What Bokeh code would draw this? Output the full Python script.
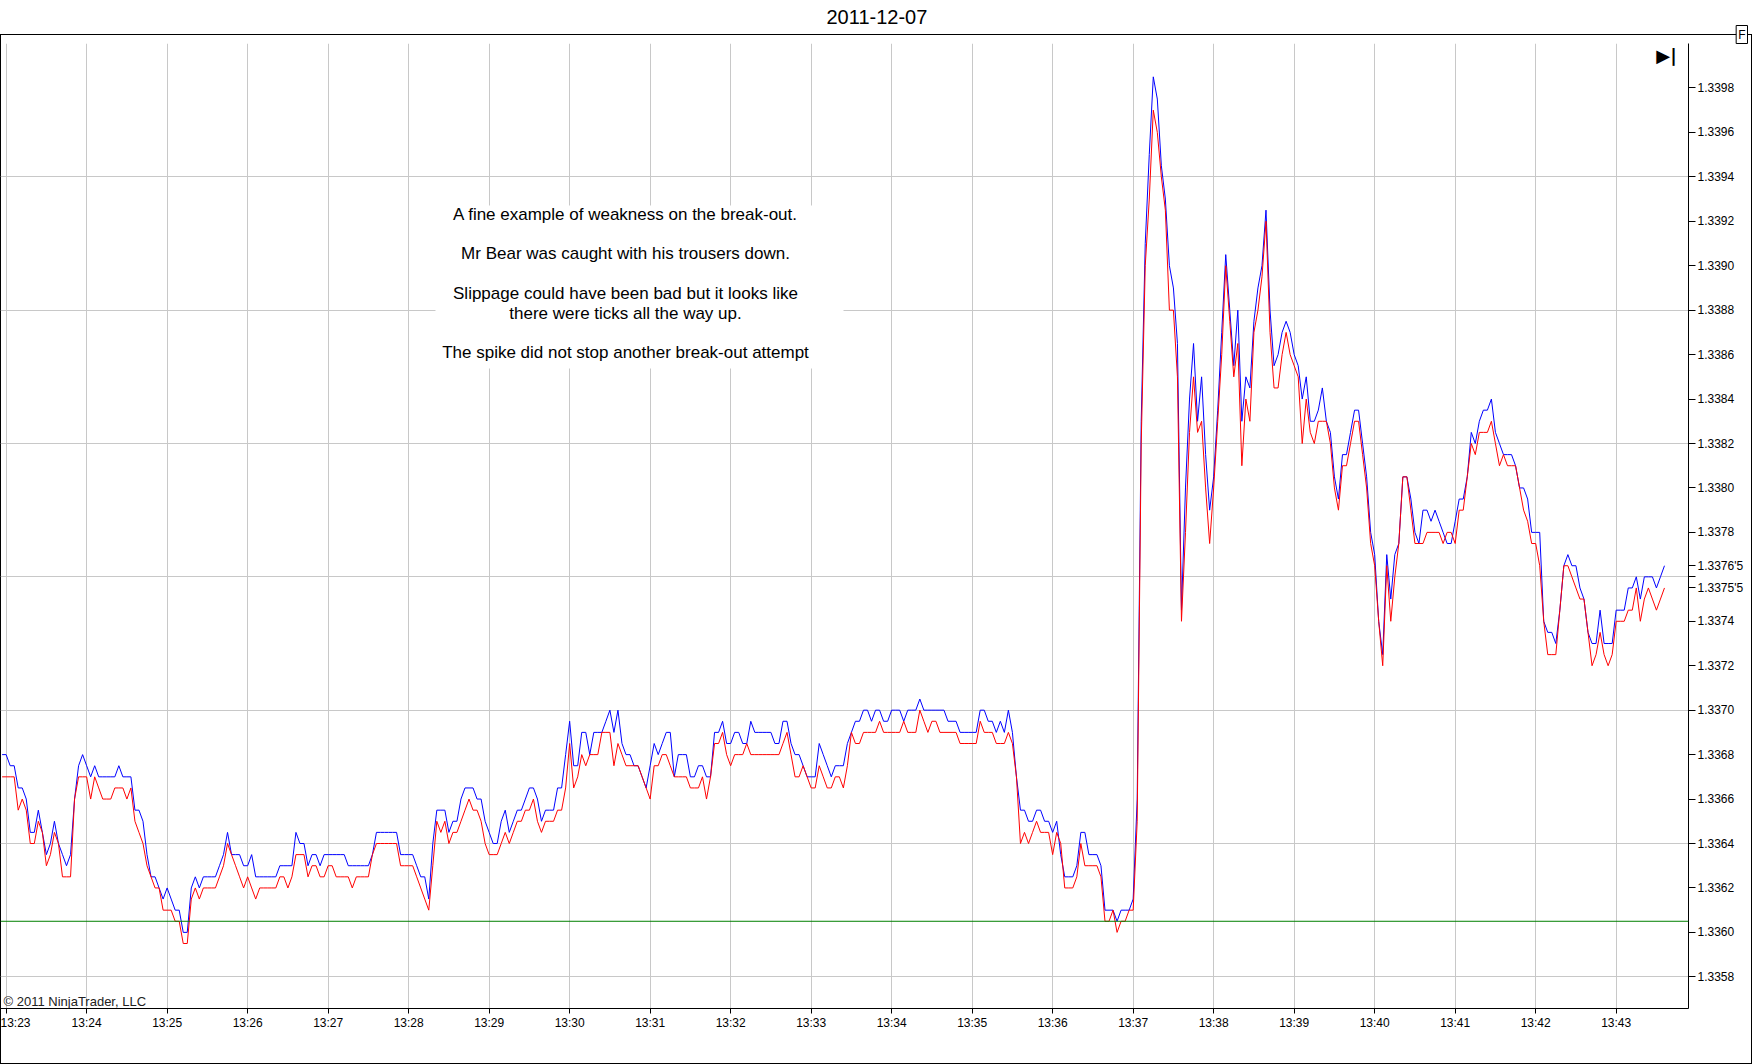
from bokeh.plotting import figure
from bokeh.models import Range1d, FixedTicker, Span, Label, BoxAnnotation, PrintfTickFormatter, Title
from bokeh.embed import file_html
from bokeh.resources import INLINE

# ---------------- data ----------------
chart_title = "2011-12-07"
start_seconds = -3          # first sample, seconds after 13:23:00
sample_step_seconds = 3

ask = [1.3368,
    1.3368, 1.33675, 1.33675, 1.33665, 1.33665, 1.3366, 1.33645, 1.33645, 1.33655, 1.33645, 1.33635, 1.3364, 1.3365, 1.3364, 1.33635, 1.3363, 1.33635, 1.3366, 1.33675, 1.3368,
    1.33675, 1.3367, 1.33675, 1.3367, 1.3367, 1.3367, 1.3367, 1.3367, 1.33675, 1.3367, 1.3367, 1.3367, 1.33655, 1.33655, 1.3365, 1.33635, 1.33625, 1.33625, 1.3362, 1.33615,
    1.3362, 1.33615, 1.3361, 1.3361, 1.336, 1.336, 1.3362, 1.33625, 1.3362, 1.33625, 1.33625, 1.33625, 1.33625, 1.3363, 1.33635, 1.33645, 1.33635, 1.33635, 1.33635, 1.3363,
    1.3363, 1.33635, 1.33625, 1.33625, 1.33625, 1.33625, 1.33625, 1.33625, 1.3363, 1.3363, 1.3363, 1.3363, 1.33645, 1.3364, 1.3364, 1.3363, 1.33635, 1.33635, 1.3363, 1.33635,
    1.33635, 1.33635, 1.33635, 1.33635, 1.33635, 1.3363, 1.3363, 1.3363, 1.3363, 1.3363, 1.3363, 1.33635, 1.33645, 1.33645, 1.33645, 1.33645, 1.33645, 1.33645, 1.33635, 1.33635,
    1.33635, 1.33635, 1.3363, 1.33625, 1.33625, 1.33615, 1.3364, 1.33655, 1.33655, 1.33655, 1.33645, 1.3365, 1.3365, 1.3366, 1.33665, 1.33665, 1.33665, 1.3366, 1.3366, 1.3365,
    1.33645, 1.3364, 1.3364, 1.3365, 1.33655, 1.33645, 1.3365, 1.33655, 1.33655, 1.3366, 1.33665, 1.33665, 1.3366, 1.3365, 1.33655, 1.33655, 1.33655, 1.33665, 1.33665, 1.3368,
    1.33695, 1.33675, 1.33675, 1.3369, 1.3369, 1.3368, 1.3369, 1.3369, 1.3369, 1.33695, 1.337, 1.3369, 1.337, 1.33685, 1.3368, 1.3368, 1.33675, 1.33675, 1.3367, 1.33665,
    1.33675, 1.33685, 1.3368, 1.33685, 1.3369, 1.3369, 1.3367, 1.3368, 1.3368, 1.3368, 1.3367, 1.3367, 1.33675, 1.33675, 1.3367, 1.3367, 1.3369, 1.3369, 1.33695, 1.33685,
    1.33685, 1.3369, 1.3369, 1.33685, 1.33685, 1.33695, 1.3369, 1.3369, 1.3369, 1.3369, 1.3369, 1.33685, 1.33685, 1.33695, 1.33695, 1.33685, 1.3368, 1.3368, 1.33675, 1.3367,
    1.3367, 1.3367, 1.33685, 1.3368, 1.33675, 1.3367, 1.33675, 1.33675, 1.33675, 1.33685, 1.3369, 1.33695, 1.33695, 1.337, 1.337, 1.33695, 1.337, 1.337, 1.33695, 1.33695,
    1.337, 1.337, 1.337, 1.33695, 1.337, 1.337, 1.337, 1.33705, 1.337, 1.337, 1.337, 1.337, 1.337, 1.337, 1.33695, 1.33695, 1.33695, 1.3369, 1.3369, 1.3369,
    1.3369, 1.3369, 1.337, 1.337, 1.33695, 1.33695, 1.3369, 1.33695, 1.3369, 1.337, 1.3369, 1.3367, 1.33655, 1.33655, 1.3365, 1.3365, 1.33655, 1.33655, 1.3365, 1.3365,
    1.33645, 1.3365, 1.33635, 1.33625, 1.33625, 1.33625, 1.3363, 1.33645, 1.33645, 1.33635, 1.33635, 1.33635, 1.3363, 1.3361, 1.3361, 1.3361, 1.33605, 1.3361, 1.3361, 1.3361,
    1.33615, 1.3366, 1.3383, 1.3391, 1.3395, 1.33985, 1.33975, 1.33945, 1.3393, 1.339, 1.3389, 1.33865, 1.33745, 1.338, 1.3384, 1.33865, 1.3383, 1.3385, 1.33815, 1.3379,
    1.33805, 1.33835, 1.3387, 1.33905, 1.3388, 1.33855, 1.3388, 1.3383, 1.3385, 1.33845, 1.33875, 1.3389, 1.339, 1.33925, 1.3388, 1.33855, 1.3386, 1.3387, 1.33875, 1.3387,
    1.3386, 1.33855, 1.3384, 1.3385, 1.3383, 1.3383, 1.33835, 1.33845, 1.3383, 1.33825, 1.33805, 1.33795, 1.33815, 1.33815, 1.33825, 1.33835, 1.33835, 1.3382, 1.33805, 1.3378,
    1.3377, 1.3374, 1.33725, 1.3377, 1.3375, 1.3377, 1.33775, 1.33805, 1.33805, 1.33795, 1.3378, 1.33775, 1.3379, 1.3379, 1.33785, 1.3379, 1.33785, 1.3378, 1.33775, 1.33775,
    1.33785, 1.33795, 1.33795, 1.33805, 1.33825, 1.3382, 1.3383, 1.33835, 1.33835, 1.3384, 1.33825, 1.3382, 1.33815, 1.33815, 1.33815, 1.3381, 1.338, 1.338, 1.33795, 1.3378,
    1.3378, 1.3378, 1.3374, 1.33735, 1.33735, 1.3373, 1.33745, 1.33765, 1.3377, 1.33765, 1.33765, 1.33755, 1.3375, 1.33735, 1.3373, 1.3373, 1.33745, 1.3373, 1.3373, 1.3373,
    1.33745, 1.33745, 1.33745, 1.33755, 1.33755, 1.3376, 1.3375, 1.3376, 1.3376, 1.3376, 1.33755, 1.3376, 1.33765]

bid = [1.3367,
    1.3367, 1.3367, 1.3367, 1.33655, 1.3366, 1.33655, 1.3364, 1.3364, 1.3365, 1.33645, 1.3363, 1.33635, 1.33645, 1.3364, 1.33625, 1.33625, 1.33625, 1.3366, 1.3367, 1.3367,
    1.3367, 1.3366, 1.3367, 1.33665, 1.3366, 1.3366, 1.3366, 1.33665, 1.33665, 1.33665, 1.3366, 1.33665, 1.3365, 1.33645, 1.3364, 1.3363, 1.33625, 1.3362, 1.3362, 1.3361,
    1.3361, 1.3361, 1.33605, 1.33605, 1.33595, 1.33595, 1.33615, 1.3362, 1.33615, 1.3362, 1.3362, 1.3362, 1.3362, 1.33625, 1.3363, 1.3364, 1.33635, 1.3363, 1.33625, 1.3362,
    1.33625, 1.3362, 1.33615, 1.3362, 1.3362, 1.3362, 1.3362, 1.3362, 1.33625, 1.33625, 1.3362, 1.33625, 1.33635, 1.33635, 1.33635, 1.33625, 1.3363, 1.3363, 1.33625, 1.33625,
    1.3363, 1.3363, 1.33625, 1.33625, 1.33625, 1.33625, 1.3362, 1.33625, 1.33625, 1.33625, 1.33625, 1.33635, 1.3364, 1.3364, 1.3364, 1.3364, 1.3364, 1.3364, 1.3363, 1.3363,
    1.3363, 1.3363, 1.33625, 1.3362, 1.33615, 1.3361, 1.3363, 1.3365, 1.33645, 1.3365, 1.3364, 1.33645, 1.33645, 1.3365, 1.33655, 1.3366, 1.33655, 1.33655, 1.3365, 1.3364,
    1.33635, 1.33635, 1.33635, 1.3364, 1.33645, 1.3364, 1.33645, 1.3365, 1.3365, 1.33655, 1.33655, 1.3366, 1.3365, 1.33645, 1.3365, 1.3365, 1.3365, 1.33655, 1.33655, 1.33665,
    1.33685, 1.33665, 1.3367, 1.3368, 1.33675, 1.3368, 1.3368, 1.3368, 1.3369, 1.3369, 1.3369, 1.33675, 1.33685, 1.3368, 1.33675, 1.33675, 1.33675, 1.33675, 1.3367, 1.33665,
    1.3366, 1.33675, 1.33675, 1.3368, 1.3368, 1.33675, 1.3367, 1.3367, 1.3367, 1.3367, 1.33665, 1.33665, 1.33665, 1.3367, 1.3366, 1.3367, 1.33685, 1.33685, 1.3369, 1.3368,
    1.33675, 1.3368, 1.3368, 1.3368, 1.33685, 1.3368, 1.3368, 1.3368, 1.3368, 1.3368, 1.3368, 1.3368, 1.3368, 1.33685, 1.3369, 1.3368, 1.3367, 1.3367, 1.33675, 1.3367,
    1.33665, 1.33665, 1.33675, 1.3367, 1.33665, 1.33665, 1.3367, 1.3367, 1.33665, 1.33675, 1.3369, 1.33685, 1.33685, 1.3369, 1.3369, 1.3369, 1.3369, 1.33695, 1.3369, 1.3369,
    1.3369, 1.3369, 1.3369, 1.33695, 1.3369, 1.3369, 1.3369, 1.337, 1.33695, 1.3369, 1.33695, 1.33695, 1.3369, 1.3369, 1.3369, 1.3369, 1.3369, 1.33685, 1.33685, 1.33685,
    1.33685, 1.33685, 1.33695, 1.3369, 1.3369, 1.3369, 1.33685, 1.33685, 1.33685, 1.3369, 1.33685, 1.3367, 1.3364, 1.33645, 1.3364, 1.33645, 1.3365, 1.33645, 1.33645, 1.33645,
    1.33635, 1.33645, 1.3364, 1.3362, 1.3362, 1.3362, 1.33625, 1.3364, 1.3363, 1.3363, 1.3363, 1.3363, 1.33625, 1.33605, 1.33605, 1.3361, 1.336, 1.33605, 1.33605, 1.3361,
    1.3361, 1.3365, 1.3382, 1.339, 1.3393, 1.3397, 1.3396, 1.3394, 1.33925, 1.3388, 1.3388, 1.3385, 1.3374, 1.3378, 1.33825, 1.3385, 1.33825, 1.3383, 1.338, 1.33775,
    1.338, 1.3383, 1.3386, 1.339, 1.33875, 1.3385, 1.33865, 1.3381, 1.3384, 1.3383, 1.3387, 1.3388, 1.33895, 1.3392, 1.3387, 1.33845, 1.33845, 1.3386, 1.3387, 1.3386,
    1.33855, 1.3385, 1.3382, 1.3384, 1.33825, 1.3382, 1.3383, 1.3383, 1.3383, 1.3382, 1.338, 1.3379, 1.3381, 1.3381, 1.3382, 1.3383, 1.3383, 1.33815, 1.338, 1.33775,
    1.33765, 1.3374, 1.3372, 1.33765, 1.3374, 1.3376, 1.33775, 1.33805, 1.33805, 1.3379, 1.33775, 1.33775, 1.33775, 1.3378, 1.3378, 1.3378, 1.3378, 1.33775, 1.3378, 1.3378,
    1.33775, 1.3379, 1.3379, 1.33805, 1.3382, 1.33815, 1.33825, 1.33825, 1.33825, 1.3383, 1.3382, 1.3381, 1.33815, 1.3381, 1.3381, 1.3381, 1.338, 1.3379, 1.33785, 1.33775,
    1.33775, 1.33765, 1.3374, 1.33725, 1.33725, 1.33725, 1.33745, 1.33765, 1.33765, 1.3376, 1.33755, 1.3375, 1.3375, 1.33735, 1.3372, 1.33725, 1.33735, 1.33725, 1.3372, 1.33725,
    1.3374, 1.3374, 1.3374, 1.33745, 1.33745, 1.33755, 1.3374, 1.3375, 1.33755, 1.3375, 1.33745, 1.3375, 1.33755]

minute_ticks_seconds = [0, 60, 120, 180, 240, 300, 360, 420, 480, 540, 600, 660, 720, 780,
                        840, 900, 960, 1020, 1080, 1140, 1200]
minute_labels = ["13:23", "13:24", "13:25", "13:26", "13:27", "13:28", "13:29", "13:30", "13:31",
                 "13:32", "13:33", "13:34", "13:35", "13:36", "13:37", "13:38", "13:39", "13:40",
                 "13:41", "13:42", "13:43"]
price_ticks = [1.3358, 1.3360, 1.3362, 1.3364, 1.3366, 1.3368, 1.3370, 1.3372, 1.3374, 1.3376,
               1.3378, 1.3380, 1.3382, 1.3384, 1.3386, 1.3388, 1.3390, 1.3392, 1.3394, 1.3396, 1.3398]
grid_levels = [1.3358, 1.3364, 1.3370, 1.3376, 1.3382, 1.3388, 1.3394, 1.3400]
reference_level = 1.33605
last_ask_text = "1.3376'5"
last_bid_text = "1.3375'5"
note_lines = ["A fine example of weakness on the break-out.",
              "Mr Bear was caught with his trousers down.",
              "Slippage could have been bad but it looks like",
              "there were ticks all the way up.",
              "The spike did not stop another break-out attempt"]
copyright_text = "\u00a9 2011 NinjaTrader, LLC"

# ---------------- figure ----------------
FONT = "Liberation Sans"
W, H = 1752, 1064
ask_times = [start_seconds + i * sample_step_seconds for i in range(len(ask))]
bid_times = [start_seconds + i * sample_step_seconds for i in range(len(bid))]

p = figure(width=W, height=H,
           x_range=Range1d(-4.2, 1253.9), y_range=Range1d(1.3356575, 1.3400),
           y_axis_location="right", output_backend="svg", toolbar_location=None,
           min_border_left=0, min_border_right=64, min_border_top=43, min_border_bottom=56,
           background_fill_color=None, border_fill_color=None)
p.outline_line_color = None

# thin outer panel frame (drawn by the page behind the transparent canvas)
p.styles = {
    "background-color": "white",
    "background-image": ", ".join(["linear-gradient(#000, #000)"] * 4),
    "background-size": "100% 1px, 1px calc(100% - 34px), 100% 1px, 1px calc(100% - 34px)",
    "background-position": "0 34px, right 0 top 34px, 0 100%, 0 34px",
    "background-repeat": "no-repeat",
}

# titles (outside the plotting frame)
p.add_layout(Title(text="F", align="right", offset=-59, standoff=0,
                   text_font=FONT, text_font_size="12px", text_font_style="normal",
                   text_color="black", border_line_color="black",
                   background_fill_color="white", padding=2), "above")
p.add_layout(Title(text=chart_title, align="left", offset=826, standoff=0,
                   text_font=FONT, text_font_size="20px", text_font_style="normal",
                   text_color="black"), "above")

# axes
xax = p.xaxis[0]
xax.ticker = FixedTicker(ticks=minute_ticks_seconds)
xax.major_label_overrides = {t: lab for t, lab in zip(minute_ticks_seconds, minute_labels)}
xax.major_tick_out = 5
xax.major_tick_in = 0
xax.minor_tick_line_color = None
xax.major_label_standoff = 2
xax.axis_line_color = "black"
xax.major_tick_line_color = "black"
xax.major_label_text_font = FONT
xax.major_label_text_font_size = "12px"
xax.major_label_text_color = "black"

yax = p.yaxis[0]
yax.ticker = FixedTicker(ticks=price_ticks + [ask[-1], bid[-1]])
yax.formatter = PrintfTickFormatter(format="%.4f")
yax.major_label_overrides = {1.3376: "", ask[-1]: last_ask_text, bid[-1]: last_bid_text}
yax.major_tick_out = 7
yax.major_tick_in = 0
yax.minor_tick_line_color = None
yax.major_label_standoff = 2
yax.axis_line_color = "black"
yax.major_tick_line_color = "black"
yax.major_label_text_font = FONT
yax.major_label_text_font_size = "12px"
yax.major_label_text_color = "black"

# grids
p.xgrid.ticker = FixedTicker(ticks=minute_ticks_seconds)
p.ygrid.ticker = FixedTicker(ticks=grid_levels)
p.xgrid.grid_line_color = "#c8c8c8"
p.ygrid.grid_line_color = "#c8c8c8"

# reference level
p.add_layout(Span(location=reference_level, dimension="width",
                  line_color="#008000", line_width=1))

# series
p.line(ask_times, ask, line_color="#0000ff", line_width=1)
p.line(bid_times, bid, line_color="#ff0000", line_width=1)

# note box
p.add_layout(BoxAnnotation(left=435, right=843, top=205, bottom=368,
                           left_units="canvas", right_units="canvas",
                           top_units="canvas", bottom_units="canvas",
                           fill_color="white", fill_alpha=1, line_color=None))
note_y = [214, 253, 293, 313, 352]
for txt, yy in zip(note_lines, note_y):
    p.add_layout(Label(x=625, y=yy, x_units="canvas", y_units="canvas", text=txt,
                       text_align="center", text_baseline="middle",
                       text_font=FONT, text_font_size="17px", text_color="black"))

# copyright
p.add_layout(Label(x=3, y=1001, x_units="canvas", y_units="canvas", text=copyright_text,
                   text_align="left", text_baseline="middle",
                   text_font=FONT, text_font_size="13px", text_color="#222222"))

# scroll icon
p.add_layout(Label(x=1666, y=55, x_units="canvas", y_units="canvas", text="\u25b6|",
                   text_align="center", text_baseline="middle",
                   text_font="DejaVu Sans", text_font_style="bold",
                   text_font_size="18px", text_color="black"))

open("out.html", "w").write(file_html(p, INLINE))
